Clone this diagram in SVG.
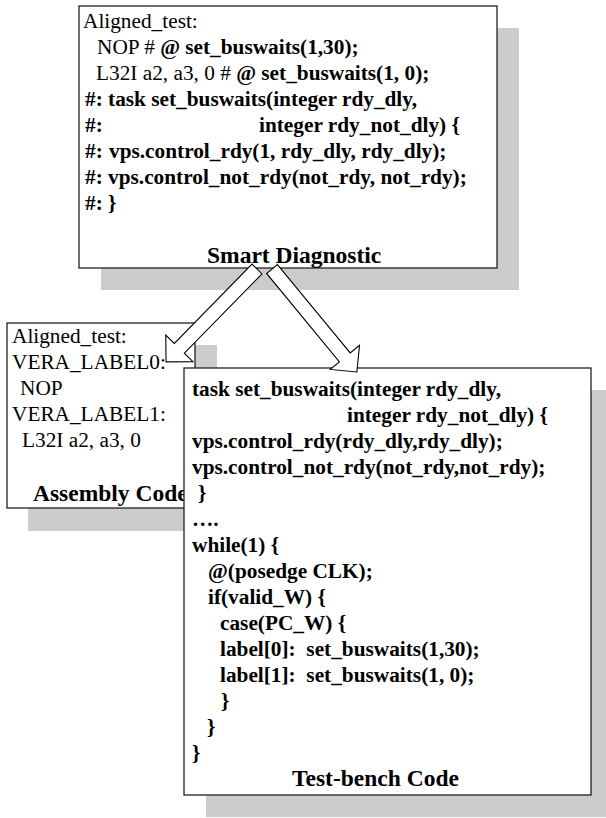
<svg xmlns="http://www.w3.org/2000/svg" width="606" height="818" viewBox="0 0 606 818">
<style>
.sh{fill:#cccccc;stroke:none}
.box{fill:#ffffff;stroke:#222222;stroke-width:1.3}
text{font-family:"Liberation Serif","Times New Roman",Times,serif;font-size:21.3px;fill:#000000}
.b{font-weight:bold}
.h{font-weight:bold;font-size:23.5px}
.arr{fill:#ffffff;stroke:#000000;stroke-width:1.1;stroke-linejoin:miter}
</style>
<rect width="606" height="818" fill="#ffffff"/>

<g id="assembly">
<rect class="sh" x="28" y="345" width="189" height="186"/>
<rect class="box" x="7" y="323" width="188" height="185"/>
<text x="12" y="343">Aligned_test:</text>
<text x="12" y="369">VERA_LABEL0:</text>
<text x="20" y="395">NOP</text>
<text x="12" y="421">VERA_LABEL1:</text>
<text x="22" y="447">L32I a2, a3, 0</text>
<text class="h" x="33" y="501">Assembly Code</text>
</g>

<g id="testbench">
<rect class="sh" x="206" y="390" width="420" height="427"/>
<rect class="box" x="184" y="368" width="407" height="427"/>
<text class="b" x="192" y="396">task set_buswaits(integer rdy_dly,</text>
<text class="b" x="347" y="422">integer rdy_not_dly) {</text>
<text class="b" x="192" y="448">vps.control_rdy(rdy_dly,rdy_dly);</text>
<text class="b" x="192" y="474">vps.control_not_rdy(not_rdy,not_rdy);</text>
<text class="b" x="198" y="500">}</text>
<text class="b" x="192" y="526">….</text>
<text class="b" x="192" y="552">while(1) {</text>
<text class="b" x="208" y="578">@(posedge CLK);</text>
<text class="b" x="208" y="604">if(valid_W) {</text>
<text class="b" x="220" y="630">case(PC_W) {</text>
<text class="b" x="220" y="656" xml:space="preserve">label[0]:  set_buswaits(1,30);</text>
<text class="b" x="220" y="682" xml:space="preserve">label[1]:  set_buswaits(1, 0);</text>
<text class="b" x="221" y="708">}</text>
<text class="b" x="207" y="734">}</text>
<text class="b" x="192" y="760">}</text>
<text class="h" x="292" y="786">Test-bench Code</text>
</g>

<g id="smart">
<rect class="sh" x="101" y="28" width="418" height="262"/>
<rect class="box" x="79" y="6" width="418" height="262"/>
<text x="83" y="28">Aligned_test:</text>
<text x="97" y="54">NOP # <tspan class="b">@ set_buswaits(1,30);</tspan></text>
<text x="96" y="80">L32I a2, a3, 0 # <tspan class="b">@ set_buswaits(1, 0);</tspan></text>
<text class="b" x="85" y="106">#: task set_buswaits(integer rdy_dly,</text>
<text class="b" x="85" y="132">#:</text>
<text class="b" x="259" y="132">integer rdy_not_dly) {</text>
<text class="b" x="85" y="158">#:</text>
<text class="b" x="109" y="158">vps.control_rdy(1, rdy_dly, rdy_dly);</text>
<text class="b" x="85" y="184">#: vps.control_not_rdy(not_rdy, not_rdy);</text>
<text class="b" x="85" y="210">#: }</text>
<text class="h" x="207" y="263">Smart Diagnostic</text>
</g>

<g id="connectors">
<polygon class="arr" transform="translate(257,269) rotate(134.4)" points="0,-7 111,-7 111,-19 130,0 111,19 111,7 0,7"/>
<polygon class="arr" transform="translate(272,269) rotate(50.5)" points="0,-7 114.5,-7 114.5,-19 133.5,0 114.5,19 114.5,7 0,7"/>
</g>
</svg>
